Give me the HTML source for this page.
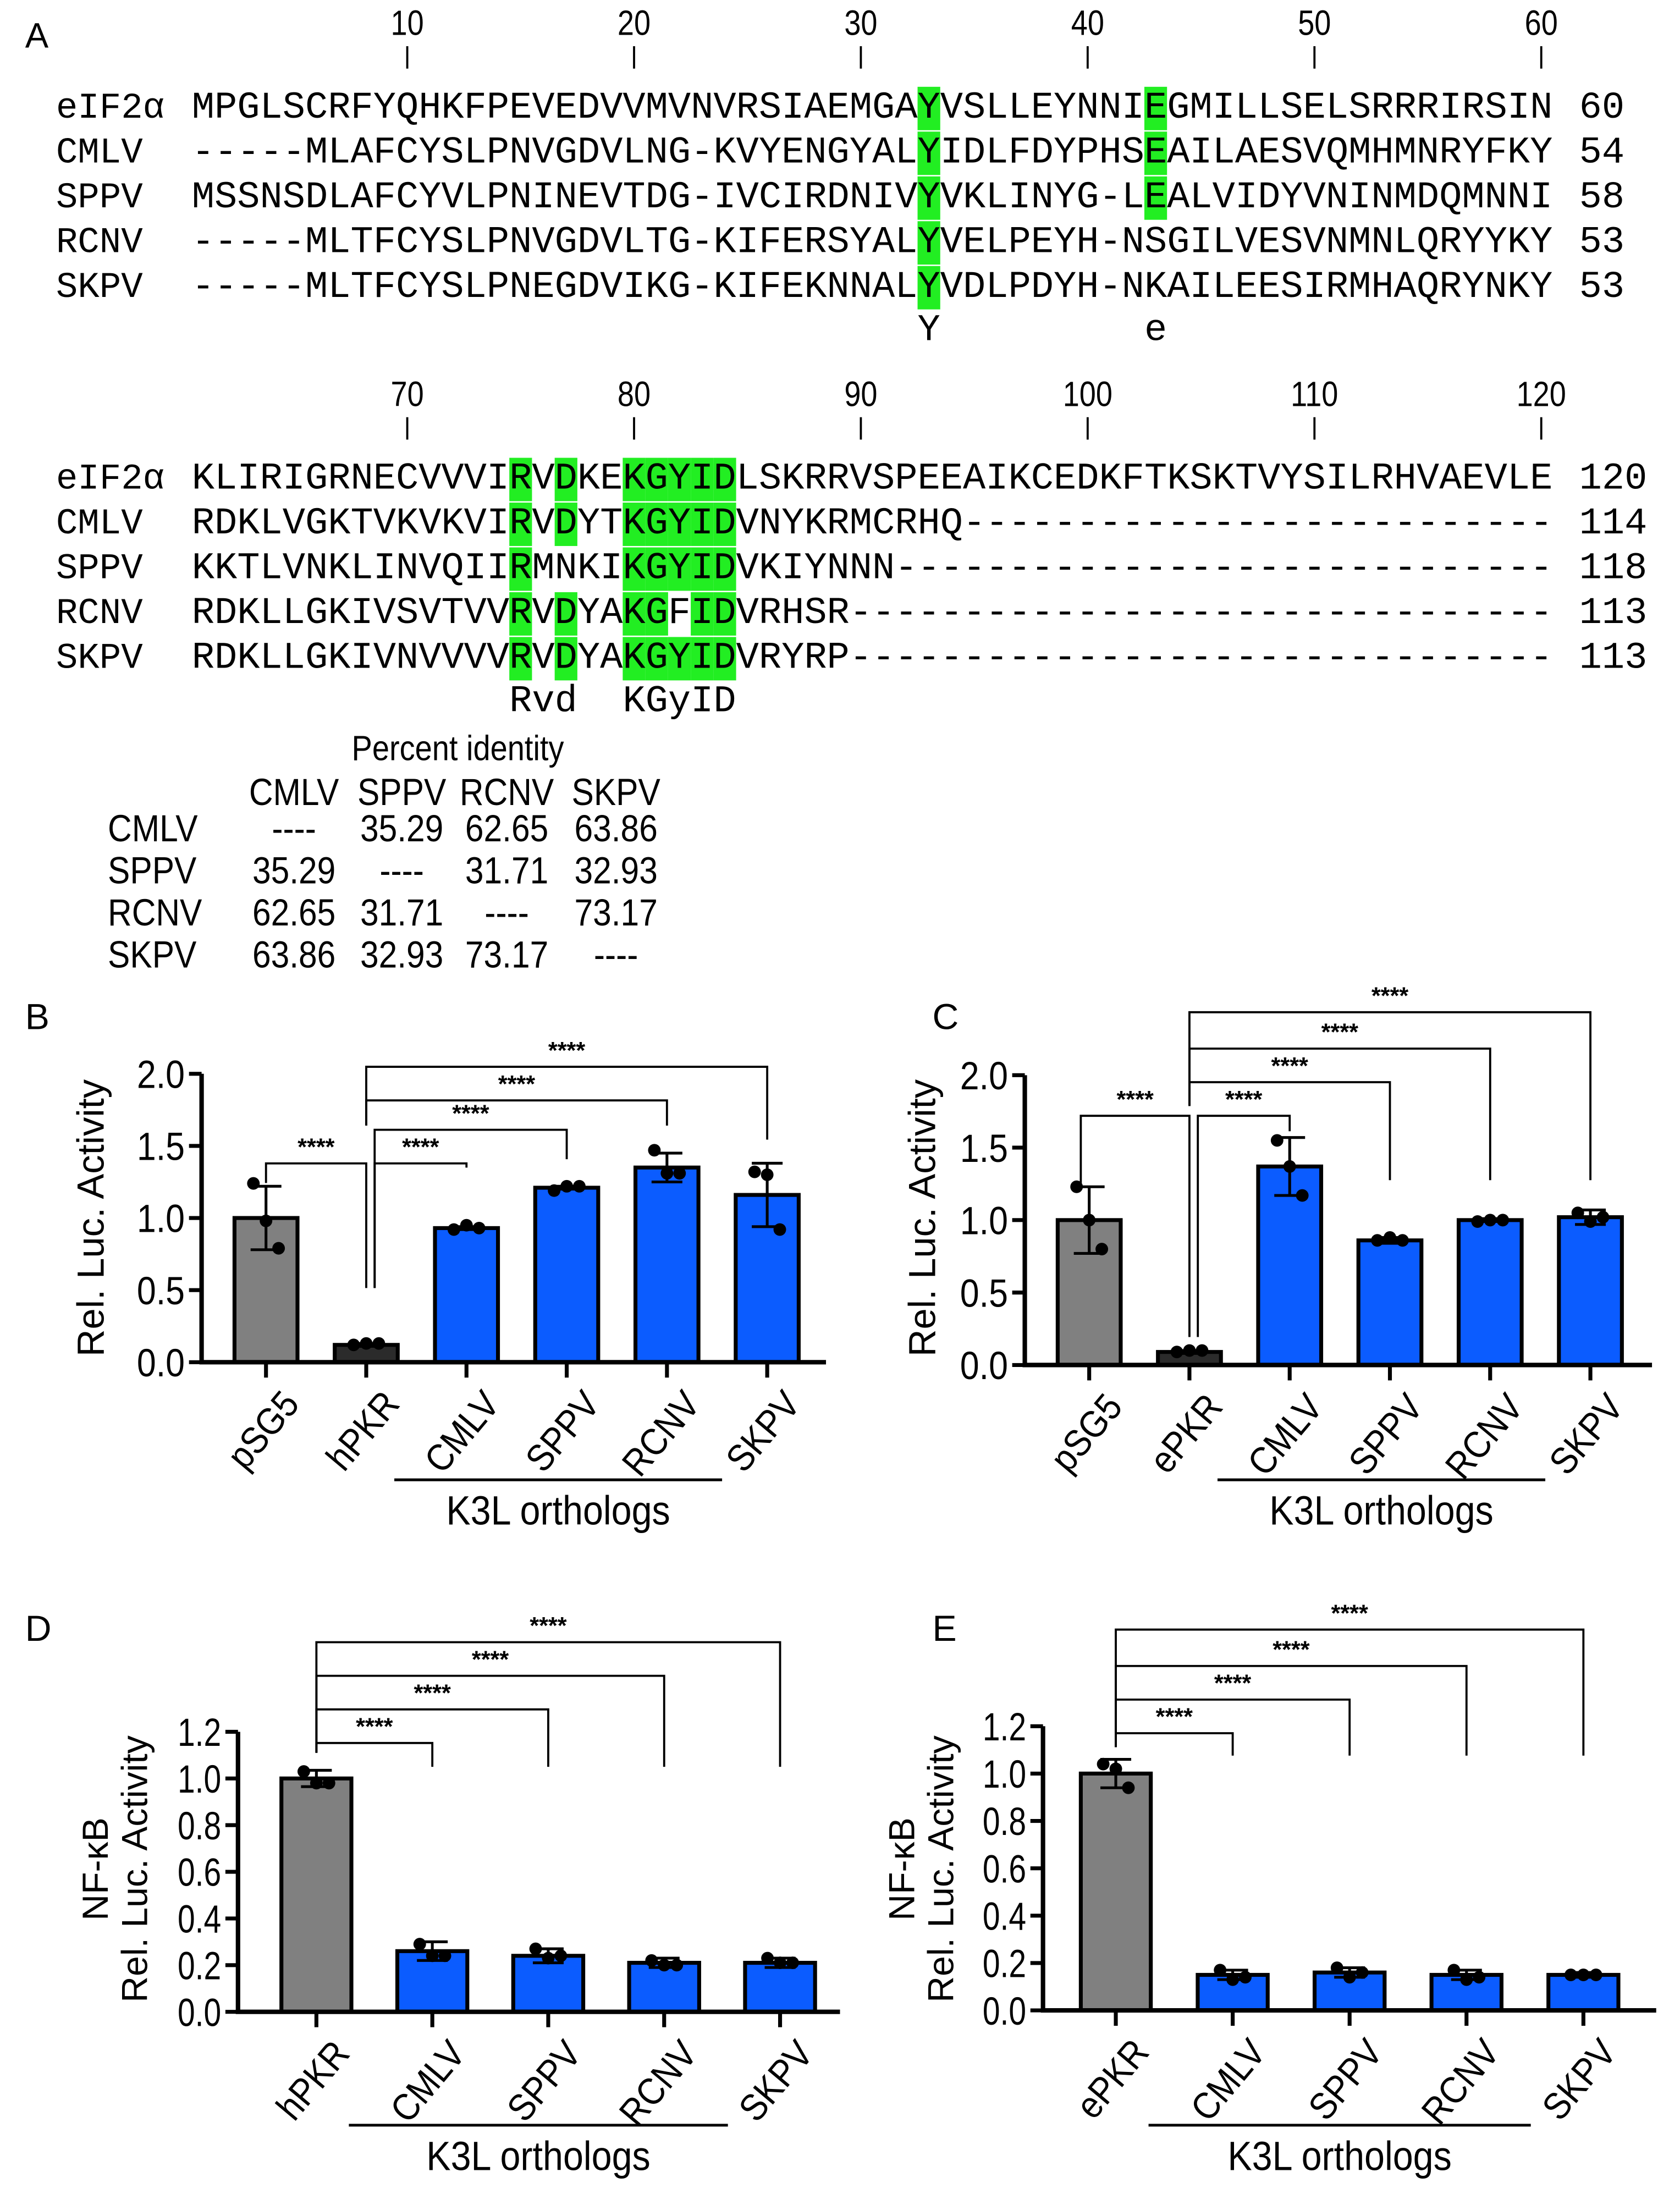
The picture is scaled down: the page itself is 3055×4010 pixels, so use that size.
<!DOCTYPE html>
<html><head><meta charset="utf-8"><style>
html,body{margin:0;padding:0;background:#fff;}
svg{display:block;}
.mono{font-family:"Liberation Mono",monospace;}
.sans{font-family:"Liberation Sans",sans-serif;}
</style></head><body>
<svg id="fig" width="3055" height="4010" viewBox="0 0 1200 1575" preserveAspectRatio="none" xmlns="http://www.w3.org/2000/svg">
<rect width="1200" height="1575" fill="#fff"/>
<g id="panelA"></g>
<g id="table"></g>
<g id="chartB"></g>
<g id="chartC"></g>
<g id="chartD"></g>
<g id="chartE"></g>
</svg>
<script>
const NS='http://www.w3.org/2000/svg';
function mk(p,tag,a,txt){const e=document.createElementNS(NS,tag);for(const k in a)e.setAttribute(k,a[k]);if(txt!==undefined)e.textContent=txt;p.appendChild(e);return e;}

// ---------- Panel A data ----------
const seqNames=['eIF2α','CMLV','SPPV','RCNV','SKPV'];
const block1=['MPGLSCRFYQHKFPEVEDVVMVNVRSIAEMGAYVSLLEYNNIEGMILLSELSRRRIRSIN','-----MLAFCYSLPNVGDVLNG-KVYENGYALYIDLFDYPHSEAILAESVQMHMNRYFKY','MSSNSDLAFCYVLPNINEVTDG-IVCIRDNIVYVKLINYG-LEALVIDYVNINMDQMNNI','-----MLTFCYSLPNVGDVLTG-KIFERSYALYVELPEYH-NSGILVESVNMNLQRYYKY','-----MLTFCYSLPNEGDVIKG-KIFEKNNALYVDLPDYH-NKAILEESIRMHAQRYNKY'];
const block1End=['60','54','58','53','53'];
const block2=['KLIRIGRNECVVVIRVDKEKGYIDLSKRRVSPEEAIKCEDKFTKSKTVYSILRHVAEVLE','RDKLVGKTVKVKVIRVDYTKGYIDVNYKRMCRHQ--------------------------','KKTLVNKLINVQIIRMNKIKGYIDVKIYNNN-----------------------------','RDKLLGKIVSVTVVRVDYAKGFIDVRHSR-------------------------------','RDKLLGKIVNVVVVRVDYAKGYIDVRYRP-------------------------------'];
const block2End=['120','114','118','113','113'];
const hl1=[[33,[0,1,2,3,4]],[43,[0,1,2]]];
const hl2=[[15,[0,1,2,3,4]],[17,[0,1,3,4]],[20,[0,1,2,3,4]],[21,[0,1,2,3,4]],[22,[0,1,2,4]],[23,[0,1,2,3,4]],[24,[0,1,2,3,4]]];
const cons1=[[33,'Y'],[43,'e']];
const cons2=[[15,'Rvd'],[20,'KGyID']];

const A=document.getElementById('panelA');
const x0=137,cw=16.2;
let t=mk(A,'text',{x:18,y:34,'font-size':25,class:'sans'},'A');

function drawBlock(seqs,ends,hl,cons,top,startNum){
  for(let k=1;k<=6;k++){
    const col=k*10, cx=x0+(col-0.5)*cw;
    const n=mk(A,'text',{x:cx,y:top,'font-size':25,'text-anchor':'middle',class:'sans',transform:`translate(${cx} ${top}) scale(0.85 1) translate(${-cx} ${-top})`},String(startNum+col));
    
    const l=mk(A,'line',{x1:cx,x2:cx,y1:top+8,y2:top+24,stroke:'#000','stroke-width':1.5});
    
  }
  const b0=top+59;
  hl.forEach(([col,rows])=>{rows.forEach(r=>{
    const rc=mk(A,'rect',{x:x0+(col-1)*cw,y:b0+r*32-22,width:cw,height:31,fill:'#22ee22'});
    
  });});
  seqs.forEach((s,i)=>{
    const y=b0+i*32;
    const nm=mk(A,'text',{x:40,y:y,'font-size':26,class:'mono',textLength:seqNames[i].length*15.5,lengthAdjust:'spacingAndGlyphs'},seqNames[i]);
    
    const sq=mk(A,'text',{x:x0,y:y,'font-size':27,class:'mono',textLength:s.length*cw,lengthAdjust:'spacingAndGlyphs'},s);
    
    const en=mk(A,'text',{x:1128,y:y,'font-size':27,class:'mono',textLength:ends[i].length*cw,lengthAdjust:'spacingAndGlyphs'},ends[i]);
    
  });
  cons.forEach(([col,txt])=>{
    const c=mk(A,'text',{x:x0+(col-1)*cw,y:b0+5*32-1,'font-size':27,class:'mono',textLength:txt.length*cw,lengthAdjust:'spacingAndGlyphs'},txt);
    
  });
}
drawBlock(block1,block1End,hl1,cons1,25,0);
drawBlock(block2,block2End,hl2,cons2,290,60);

// ---------- Percent identity table ----------
const tblNames=['CMLV','SPPV','RCNV','SKPV'];
const tblVals=[['----','35.29','62.65','63.86'],['35.29','----','31.71','32.93'],['62.65','31.71','----','73.17'],['63.86','32.93','73.17','----']];
const T=document.getElementById('table');
function ctext(p,x,y,fs,s,anchor){return mk(p,'text',{x:x,y:y,'font-size':fs,'text-anchor':anchor||'middle',class:'sans',transform:`translate(${x} ${y}) scale(0.88 1) translate(${-x} ${-y})`},s);}
t=ctext(T,327,543,25,'Percent identity');

const colX=[210,287,362,440];
tblNames.forEach((n,i)=>{
  const h=ctext(T,colX[i],575,27,n);
  
  const r=ctext(T,77,601+i*30,27,n,'start');
  
  tblVals[i].forEach((v,j)=>{
    const c=ctext(T,colX[j],601+i*30,27,v);
    
  });
});

// ---------- Bar chart data ----------
const catsB=['pSG5','hPKR','CMLV','SPPV','RCNV','SKPV'];
const meanB=[1.0,0.12,0.93,1.21,1.35,1.16];
const sdB=[0.22,0.01,0.01,0.01,0.10,0.22];
const ptsB=[[1.24,0.98,0.79],[0.12,0.13,0.13],[0.92,0.95,0.93],[1.19,1.22,1.22],[1.47,1.31,1.31],[1.32,1.30,0.92]];
const ticksB=[0,0.5,1.0,1.5,2.0];
const catsC=['pSG5','ePKR','CMLV','SPPV','RCNV','SKPV'];
const meanC=[1.0,0.09,1.37,0.86,1.0,1.02];
const sdC=[0.23,0.01,0.20,0.02,0.01,0.05];
const ptsC=[[1.23,1.0,0.8],[0.09,0.10,0.10],[1.55,1.37,1.17],[0.86,0.88,0.86],[0.99,1.0,1.0],[1.05,0.99,1.02]];
const ticksC=[0,0.5,1.0,1.5,2.0];
const catsD=['hPKR','CMLV','SPPV','RCNV','SKPV'];
const meanD=[1.0,0.26,0.24,0.21,0.21];
const sdD=[0.035,0.04,0.03,0.02,0.02];
const ptsD=[[1.03,0.98,0.98],[0.29,0.24,0.24],[0.27,0.23,0.24],[0.22,0.20,0.20],[0.23,0.21,0.21]];
const ticksD=[0,0.2,0.4,0.6,0.8,1.0,1.2];
const catsE=['ePKR','CMLV','SPPV','RCNV','SKPV'];
const meanE=[1.0,0.15,0.16,0.15,0.15];
const sdE=[0.06,0.02,0.02,0.02,0.01];
const ptsE=[[1.04,1.02,0.94],[0.17,0.13,0.14],[0.18,0.14,0.16],[0.17,0.13,0.14],[0.15,0.15,0.15]];
const ticksE=[0,0.2,0.4,0.6,0.8,1.0,1.2];

function chart(g,o){
  const ys=v=>o.y0-(v/o.max)*(o.y0-o.yTop);
  const xs=i=>o.c0+i*o.dx;
  const L=mk(g,'text',{x:o.lx,y:o.ly,'font-size':26,class:'sans'},o.letter);
  
  o.cats.forEach((c,i)=>{
    const col=i===0?'#808080':(i===1&&o.darkSecond?'#2b2b2b':'#0b5cff');
    const b=mk(g,'rect',{x:xs(i)-o.bw/2,y:ys(o.mean[i]),width:o.bw,height:o.y0-ys(o.mean[i]),fill:col,stroke:'#000','stroke-width':2.8});
    
    const hi=ys(o.mean[i]+o.sd[i]),lo=ys(o.mean[i]-o.sd[i]);
    const e=mk(g,'path',{d:`M${xs(i)},${hi}V${lo}M${xs(i)-11},${hi}H${xs(i)+11}M${xs(i)-11},${lo}H${xs(i)+11}`,stroke:'#000','stroke-width':2,fill:'none'});
    
    o.pts[i].forEach((p,k)=>{
      const d=mk(g,'circle',{cx:xs(i)+(k-1)*9,cy:ys(p),r:4.5,fill:'#000'});
      
    });
    const tk=mk(g,'line',{x1:xs(i),x2:xs(i),y1:o.y0,y2:o.y0+11,stroke:'#000','stroke-width':2.8});
    
    const lx=xs(i)+10,ly=o.y0+18;
    const lb=mk(g,'text',{x:lx,y:ly,'font-size':27,'text-anchor':'end','dominant-baseline':'hanging',class:'sans',transform:`rotate(-50 ${lx} ${ly}) translate(${lx} ${ly}) scale(0.9 1) translate(${-lx} ${-ly})`},c);
    
  });
  const ax=mk(g,'path',{d:`M${o.ax},${o.yTop}V${o.y0}H${o.xEnd}`,stroke:'#000','stroke-width':3.2,fill:'none'});
  
  o.ticks.forEach(v=>{
    const tl=mk(g,'line',{x1:o.ax-9,x2:o.ax,y1:ys(v),y2:ys(v),stroke:'#000','stroke-width':2.8});
    
    const tx=o.ax-12,ty=ys(v)+o.tfs*0.36;
    const tt=mk(g,'text',{x:tx,y:ty,'font-size':o.tfs,'text-anchor':'end',class:'sans',transform:`translate(${tx} ${ty}) scale(${o.tsx} 1) translate(${-tx} ${-ty})`},v.toFixed(1));
    
  });
  o.ytitle.forEach((s,k)=>{
    const tx=o.tx+k*28;
    const yt=mk(g,'text',{x:tx,y:o.ty,'font-size':o.yfs,'text-anchor':'middle',class:'sans',transform:`rotate(-90 ${tx} ${o.ty})`},s);
    
  });
  const gi=o.groupStart, gl=xs(gi)-o.dx*0.72, gr=xs(o.cats.length-1)-o.dx*0.45;
  const gline=mk(g,'line',{x1:gl,x2:gr,y1:o.gy,y2:o.gy,stroke:'#000','stroke-width':2});
  
  const gx=(gl+gr)/2, gyy=o.gy+32;
  const gt=mk(g,'text',{x:gx,y:gyy,'font-size':29,'text-anchor':'middle',class:'sans',transform:`translate(${gx} ${gyy}) scale(0.9 1) translate(${-gx} ${-gyy})`},'K3L orthologs');
  
  o.brackets.forEach(br=>{
    const [a,b,yb,ya,ybot,sx]=br;
    const p=mk(g,'path',{d:`M${xs(a)+sx},${ya}V${yb}H${xs(b)}V${ybot}`,stroke:'#000','stroke-width':1.5,fill:'none'});
    
    const st=mk(g,'text',{x:(xs(a)+sx+xs(b))/2,y:yb-6,'font-size':17,'font-weight':'bold','text-anchor':'middle',class:'sans'},'****');
    
  });
}
chart(document.getElementById('chartB'),{letter:'B',lx:18,ly:735,cats:catsB,mean:meanB,sd:sdB,pts:ptsB,ticks:ticksB,max:2,y0:973,yTop:767,ax:144,xEnd:590,c0:190,dx:71.6,bw:45,darkSecond:true,tx:74,ty:870,tfs:28,tsx:0.88,yfs:27,ytitle:['Rel. Luc. Activity'],groupStart:2,gy:1057,
 brackets:[[0,1,831,845,920,0],[1,2,831,920,834,6],[1,3,807,920,828,6],[1,4,786,804,804,0],[1,5,762,804,814,0]]});
chart(document.getElementById('chartC'),{letter:'C',lx:666,ly:735,cats:catsC,mean:meanC,sd:sdC,pts:ptsC,ticks:ticksC,max:2,y0:975,yTop:768,ax:732,xEnd:1180,c0:778,dx:71.6,bw:45,darkSecond:true,tx:668,ty:870,tfs:28,tsx:0.88,yfs:27,ytitle:['Rel. Luc. Activity'],groupStart:2,gy:1057,
 brackets:[[0,1,797,845,955,-6],[1,2,797,955,808,6],[1,3,773,790,843,0],[1,4,749,790,843,0],[1,5,723,790,843,0]]});
chart(document.getElementById('chartD'),{letter:'D',lx:18,ly:1172,cats:catsD,mean:meanD,sd:sdD,pts:ptsD,ticks:ticksD,max:1.2,y0:1437,yTop:1237,ax:170,xEnd:600,c0:226,dx:82.8,bw:50,darkSecond:false,tx:77,ty:1335,tfs:28,tsx:0.8,yfs:26,ytitle:['NF-κB','Rel. Luc. Activity'],groupStart:1,gy:1518,
 brackets:[[0,1,1245,1252,1262,0],[0,2,1221,1252,1262,0],[0,3,1197,1252,1262,0],[0,4,1173,1252,1262,0]]});
chart(document.getElementById('chartE'),{letter:'E',lx:666,ly:1172,cats:catsE,mean:meanE,sd:sdE,pts:ptsE,ticks:ticksE,max:1.2,y0:1436,yTop:1233,ax:745,xEnd:1183,c0:797,dx:83.5,bw:50,darkSecond:false,tx:653,ty:1335,tfs:28,tsx:0.8,yfs:26,ytitle:['NF-κB','Rel. Luc. Activity'],groupStart:1,gy:1518,
 brackets:[[0,1,1238,1248,1254,0],[0,2,1214,1248,1254,0],[0,3,1190,1248,1254,0],[0,4,1164,1248,1254,0]]});
</script>
</body></html>
